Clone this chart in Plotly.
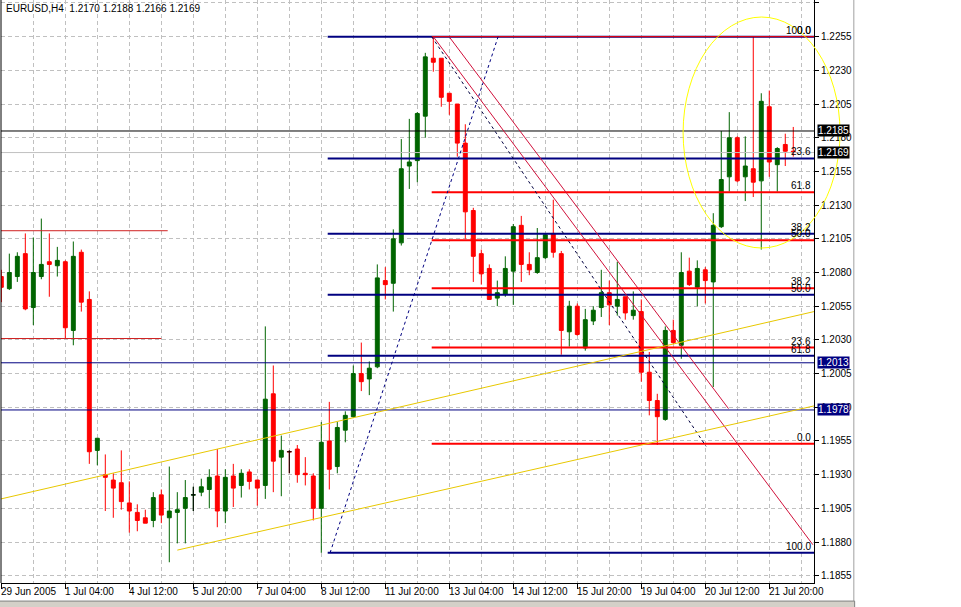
import plotly.graph_objects as go

# EURUSD H4 candles, bar index 0 = 29 Jun 2005 20:00
opens = [1.2077, 1.2068, 1.2077, 1.2094, 1.2054, 1.2077, 1.2088, 1.2085, 1.2088, 1.2037,
         1.2095, 1.2060, 1.1948, 1.1930, 1.1926, 1.1924, 1.1909, 1.1902, 1.1898, 1.1896,
         1.1915, 1.1898, 1.1902, 1.1905, 1.1915, 1.1917, 1.1919, 1.1929, 1.1903, 1.1929,
         1.1922, 1.1932, 1.1926, 1.1922, 1.1990, 1.1943, 1.1947, 1.1949, 1.1931, 1.1929,
         1.1905, 1.1955, 1.1936, 1.1963, 1.1973, 1.2005, 1.2001, 1.2010, 1.2074, 1.2072,
         1.2102, 1.2159, 1.2163, 1.2196, 1.2239, 1.2239, 1.2213, 1.2205, 1.2176, 1.2126,
         1.2094, 1.2083, 1.2061, 1.2064, 1.2081, 1.2115, 1.2086, 1.2080, 1.2091, 1.2109,
         1.2094, 1.2036, 1.2055, 1.2024, 1.2044, 1.2054, 1.2065, 1.2055, 1.2062, 1.2048,
         1.2051, 1.2006, 1.1985, 1.1971, 1.2037, 1.2026, 1.2081, 1.2069, 1.2082, 1.2073,
         1.2114, 1.2151, 1.2180, 1.2151, 1.2157, 1.2148, 1.2203, 1.2160, 1.2175, 1.2170]
highs = [1.2082, 1.2094, 1.2095, 1.2109, 1.2106, 1.2120, 1.2109, 1.2099, 1.2089, 1.2103,
         1.2097, 1.2066, 1.1957, 1.1945, 1.1931, 1.1948, 1.1925, 1.1908, 1.1904, 1.1917,
         1.1919, 1.1936, 1.1917, 1.1926, 1.1921, 1.1927, 1.1934, 1.1949, 1.1934, 1.1938,
         1.1934, 1.1934, 1.1926, 1.2040, 1.2011, 1.1959, 1.1948, 1.1952, 1.1943, 1.1931,
         1.1969, 1.1984, 1.1969, 1.1977, 1.2011, 1.2028, 1.2014, 1.2086, 1.2084, 1.2112,
         1.2179, 1.2194, 1.2199, 1.2243, 1.2255, 1.2239, 1.2213, 1.2205, 1.2190, 1.2128,
         1.2097, 1.2086, 1.2074, 1.2092, 1.2116, 1.2122, 1.2095, 1.2113, 1.2109, 1.2134,
         1.2096, 1.2059, 1.2057, 1.2053, 1.2055, 1.2082, 1.2074, 1.2088, 1.2062, 1.2066,
         1.2060, 1.2021, 1.1990, 1.2040, 1.2045, 1.2095, 1.2091, 1.2089, 1.2084, 1.2124,
         1.2185, 1.2199, 1.2181, 1.2181, 1.2255, 1.2213, 1.2215, 1.2173, 1.2183, 1.2188]
lows = [1.2058, 1.2067, 1.2073, 1.2052, 1.2041, 1.2075, 1.2062, 1.2077, 1.2031, 1.2026,
        1.2051, 1.1938, 1.1937, 1.1903, 1.1898, 1.1904, 1.1887, 1.1888, 1.1894, 1.1891,
        1.1894, 1.1865, 1.1879, 1.1879, 1.1903, 1.1914, 1.1905, 1.1891, 1.1894, 1.1906,
        1.1913, 1.1919, 1.1907, 1.1912, 1.1917, 1.1914, 1.1931, 1.1924, 1.1922, 1.1896,
        1.1872, 1.1919, 1.1931, 1.1954, 1.1972, 1.1992, 1.1989, 1.2009, 1.2060, 1.2051,
        1.2100, 1.2142, 1.2147, 1.2180, 1.2229, 1.2203, 1.2197, 1.2166, 1.2105, 1.2073,
        1.2071, 1.2060, 1.2055, 1.2062, 1.2056, 1.2073, 1.2078, 1.2079, 1.2090, 1.2091,
        1.2019, 1.2025, 1.2033, 1.2022, 1.2041, 1.2047, 1.2041, 1.2048, 1.2045, 1.2045,
        1.1999, 1.1974, 1.1952, 1.1970, 1.2027, 1.2016, 1.2070, 1.2055, 1.2057, 1.1995,
        1.2113, 1.2140, 1.2147, 1.2133, 1.2136, 1.2097, 1.2151, 1.2140, 1.2159, 1.2166]
closes = [1.2069, 1.2080, 1.2092, 1.2053, 1.2080, 1.2086, 1.2086, 1.2089, 1.2039, 1.2092,
          1.2058, 1.1947, 1.1957, 1.1928, 1.1920, 1.1910, 1.1903, 1.1896, 1.1894, 1.1913,
          1.1900, 1.1903, 1.1904, 1.1913, 1.1915, 1.1921, 1.1928, 1.1903, 1.1928, 1.1920,
          1.1931, 1.1925, 1.1920, 1.1986, 1.1940, 1.1948, 1.1947, 1.1930, 1.1930, 1.1905,
          1.1954, 1.1934, 1.1965, 1.1974, 1.2005, 1.1999, 1.2009, 1.2076, 1.2071, 1.2105,
          1.2157, 1.2162, 1.2198, 1.2240, 1.2236, 1.2210, 1.2207, 1.2176, 1.2125, 1.2092,
          1.2079, 1.2060, 1.2065, 1.2083, 1.2114, 1.2086, 1.2082, 1.2091, 1.2108, 1.2095,
          1.2037, 1.2055, 1.2034, 1.2045, 1.2052, 1.2065, 1.2056, 1.2060, 1.2050, 1.2052,
          1.2006, 1.1985, 1.1973, 1.2037, 1.2028, 1.2080, 1.2071, 1.2083, 1.2074, 1.2115,
          1.2149, 1.2180, 1.2148, 1.2159, 1.2147, 1.2207, 1.2162, 1.2172, 1.2170, 1.2169]
bars = list(range(len(opens)))

# time axis labels (every 8 bars)
tick_bars = [0, 8, 16, 24, 32, 40, 48, 56, 64, 72, 80, 88, 96]
tick_labels = ["29 Jun 2005", "1 Jul 04:00", "4 Jul 12:00", "5 Jul 20:00", "7 Jul 04:00",
               "8 Jul 12:00", "11 Jul 20:00", "13 Jul 04:00", "14 Jul 12:00", "15 Jul 20:00",
               "19 Jul 04:00", "20 Jul 12:00", "21 Jul 20:00"]
price_ticks = [1.1855, 1.1880, 1.1905, 1.1930, 1.1955, 1.1980, 1.2005, 1.2030, 1.2055,
               1.2080, 1.2105, 1.2130, 1.2155, 1.2180, 1.2205, 1.2230, 1.2255, 1.2280]

# fibonacci retracements
fib_levels = [0.0, 23.6, 38.2, 50.0, 61.8, 100.0]
fib_blue_top, fib_blue_bottom, fib_blue_start = 1.2255, 1.1872, 40.8
fib_red_top, fib_red_bottom, fib_red_start = 1.2255, 1.1953, 53.8

# horizontal lines
hl_black = 1.2185
hl_bid = 1.2169
hl_navy = [1.2013, 1.1978]
left_red = [(1.2111, 20.8), (1.2031, 20.0)]

# trend lines (bar, price)
blue_dash = [(41.1, 1.1872), (62.1, 1.2255)]
black_dash = [(53.8, 1.2255), (88.1, 1.1951)]
red_chan = [[(54.0, 1.2255), (101.45, 1.1878)], [(56.1, 1.2254), (90.9, 1.1979)]]
yellow_chan = [[(-0.04, 1.1912), (101.59, 1.2051)], [(22.0, 1.1874), (101.59, 1.1981)]]

x_range = [-0.04, 101.59]
y_range = [1.18496, 1.22822]

fig = go.Figure()


def seg(pts, color, width=1, dash=None):
    fig.add_trace(go.Scatter(x=[p[0] for p in pts], y=[p[1] for p in pts], mode="lines",
                             line=dict(color=color, width=width, dash=dash),
                             hoverinfo="skip", showlegend=False))


for y, xe in left_red:
    seg([(x_range[0], y), (xe, y)], "#d02020")
seg([(x_range[0], hl_black), (x_range[1], hl_black)], "black")
seg([(x_range[0], hl_bid), (x_range[1], hl_bid)], "#c0c0c0")
for y in hl_navy:
    seg([(x_range[0], y), (x_range[1], y)], "#000080")

for lv in fib_levels:
    yb = fib_blue_top - lv / 100 * (fib_blue_top - fib_blue_bottom)
    seg([(fib_blue_start, yb), (x_range[1], yb)], "#000080", 2)
for lv in fib_levels:
    yr = fib_red_bottom + lv / 100 * (fib_red_top - fib_red_bottom)
    seg([(fib_red_start, yr), (x_range[1], yr)], "#ff0000", 2 if lv < 100 else 1)

seg(blue_dash, "#000080", 1, "3px,3px")
seg(black_dash, "#000040", 1, "3px,3px")
for ln in red_chan:
    seg(ln, "#d0103a", 1)
for ln in yellow_chan:
    seg(ln, "#e8c800", 1)

fig.add_trace(go.Candlestick(
    x=bars, open=opens, high=highs, low=lows, close=closes,
    increasing=dict(line=dict(color="#006400", width=1), fillcolor="#006400"),
    decreasing=dict(line=dict(color="#ff0000", width=1), fillcolor="#ff0000"),
    whiskerwidth=0, hoverinfo="skip", showlegend=False))

# doji bars drawn in black
dx, dy = [], []
for i in bars:
    if opens[i] == closes[i]:
        dx += [i, i, None, i - 0.3, i + 0.3, None]
        dy += [lows[i], highs[i], None, opens[i], opens[i], None]
fig.add_trace(go.Scatter(x=dx, y=dy, mode="lines", line=dict(color="black", width=1),
                         hoverinfo="skip", showlegend=False))

font = dict(family="Liberation Sans, Arial, sans-serif", size=10, color="black")
ann = []
for b, t in zip(tick_bars, tick_labels):
    ann.append(dict(x=b, y=-0.0154, xref="x", yref="paper", text=t, showarrow=False,
                    xanchor="left", yanchor="middle", xshift=-2, font=font))
for lv in fib_levels:
    yb = fib_blue_top - lv / 100 * (fib_blue_top - fib_blue_bottom)
    yr = fib_red_bottom + lv / 100 * (fib_red_top - fib_red_bottom)
    for yy in (yb, yr):
        ann.append(dict(x=0.9985, y=yy, xref="paper", yref="y", text=f"{lv:.1f}",
                        showarrow=False, xanchor="right", yanchor="bottom", yshift=-1,
                        font=font))
for yy, bg in [(hl_black, "black"), (hl_bid, "black"), (hl_navy[0], "#000080"), (hl_navy[1], "#000080")]:
    ann.append(dict(x=1.0, y=yy, xref="paper", yref="y", text=f"{yy:.4f}", showarrow=False,
                    xanchor="left", yanchor="middle", xshift=3, bgcolor=bg, borderpad=0,
                    font=dict(family=font["family"], size=10, color="white")))
ann.append(dict(x=0.004, y=0.986, xref="paper", yref="paper",
                text="EURUSD,H4  1.2170 1.2188 1.2166 1.2169", showarrow=False,
                xanchor="left", yanchor="middle", font=font))

shapes = [
    dict(type="circle", xref="paper", yref="paper", x0=0.839, x1=1.032, y0=0.5746, y1=0.9708,
         line=dict(color="#ffff00", width=1)),
    dict(type="line", xref="paper", yref="paper", x0=0, x1=0, y0=0, y1=1,
         line=dict(color="black", width=1)),
    dict(type="line", xref="paper", yref="paper", x0=1.049, x1=1.049, y0=-0.031, y1=1.01,
         line=dict(color="#a0a0a0", width=1)),
    dict(type="rect", xref="paper", yref="paper", x0=-0.01, x1=1.05, y0=-0.06, y1=-0.031,
         line=dict(color="#808080", width=1), fillcolor="#d4d0c8"),
]

grid = dict(showgrid=True, gridcolor="#c0c0c0", griddash="4px,3px", gridwidth=1)
fig.update_layout(
    width=961, height=607,
    margin=dict(l=1, r=147, t=0, b=24),
    paper_bgcolor="white", plot_bgcolor="white",
    showlegend=False,
    font=font,
    annotations=ann, shapes=shapes,
    xaxis=dict(range=x_range, tickvals=tick_bars, showticklabels=False, ticks="outside",
               ticklen=5, tickcolor="black", showline=True, linecolor="black", zeroline=False,
               automargin=False, rangeslider=dict(visible=False),
               minor=dict(dtick=4, tick0=0, ticks="", **grid), **grid),
    yaxis=dict(range=y_range, side="right", tickvals=price_ticks, tickformat=".4f",
               ticks="outside", ticklen=4, tickcolor="black", showline=True,
               linecolor="black", zeroline=False, automargin=False, tickfont=font, **grid),
)

fig.write_html("out.html", config={"displayModeBar": False},
               post_script="document.body.style.margin='0';document.body.style.overflow='hidden';")
